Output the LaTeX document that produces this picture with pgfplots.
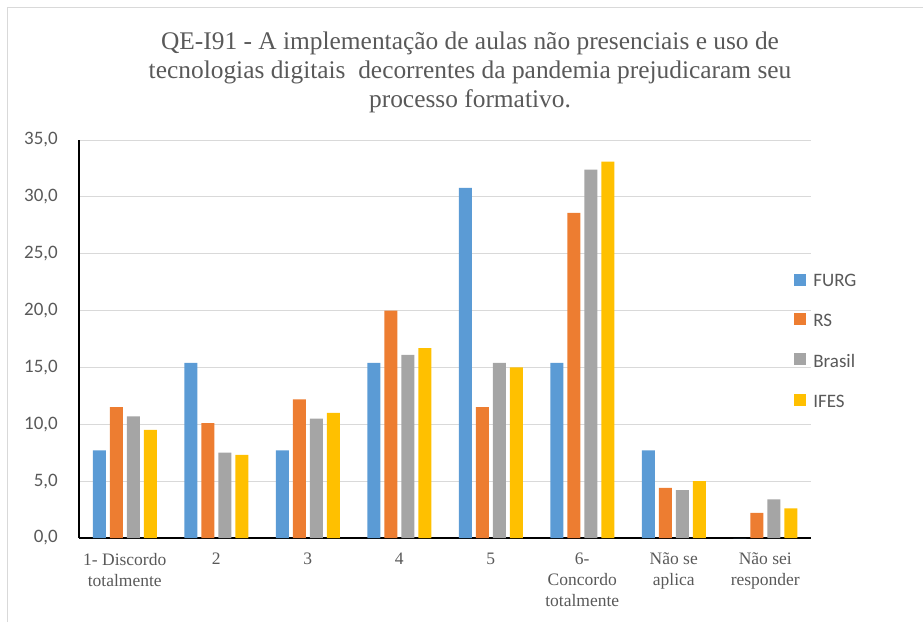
\documentclass[border=0pt]{standalone}
\usepackage{fontspec}
\setmainfont{Liberation Serif}
\newfontfamily\carlito{Carlito}
\usepackage{pgfplots}
\pgfplotsset{compat=1.18}
\definecolor{cFURG}{HTML}{5B9BD5}
\definecolor{cRS}{HTML}{ED7D31}
\definecolor{cBR}{HTML}{A5A5A5}
\definecolor{cIF}{HTML}{FFC000}
\definecolor{txt}{HTML}{595959}
\definecolor{grd}{HTML}{D9D9D9}
\begin{document}
\begin{tikzpicture}[x=1pt,y=1pt]
\useasboundingbox (0,0) rectangle (923,622);
\draw[grd, line width=1pt] (7,0) -- (7,614) -- (923,614);
\node[text=txt, align=center, font=\fontsize{25.4}{29}\selectfont] at (470,550)
 {QE-I91 - A implementação de aulas não presenciais e uso de\\
  tecnologias digitais\ \ decorrentes da pandemia prejudicaram seu\\
  processo formativo.};
\begin{axis}[
  at={(79pt,84pt)}, anchor=south west,
  scale only axis, width=732pt, height=398pt,
  xmin=-0.5, xmax=7.5, ymin=0, ymax=35,
  ybar=4pt, bar width=13pt,
  xtick={0,...,7},
  xticklabels={{1- Discordo\\totalmente},2,3,4,5,{6-\\Concordo\\totalmente},{Não se\\aplica},{Não sei\\responder}},
  xticklabel style={align=center, text=txt, font=\fontsize{17.5}{21}\selectfont, inner sep=0pt, yshift=-15pt},
  ytick={0,5,...,35},
  yticklabel style={text=txt, font=\carlito\fontsize{19}{22}\selectfont, inner sep=0pt},
  yticklabel shift=21pt,
  /pgf/number format/.cd, fixed, fixed zerofill, precision=1, use comma, assume math mode=true,
  /pgfplots/.cd,
  major tick length=0pt,
  ymajorgrids, grid style={grd, line width=1pt},
  axis x line=bottom, axis y line=left,
  axis line style={-, black, line width=1.2pt},
  legend style={draw=none, fill=none, at={(0.977,0.665)}, anchor=north west,
    font=\carlito\fontsize{19}{22}\selectfont, text=txt,
    inner sep=0pt, row sep=25pt, column sep=0pt,
    nodes={inner sep=0pt},
    /tikz/every odd column/.append style={column sep=7pt}},
  legend cell align=left,
  legend image code/.code={\fill[#1] (0pt,-4pt) rectangle (12pt,8pt);},
]
\addplot[fill=cFURG, draw=none] coordinates {(0,7.7) (1,15.4) (2,7.7) (3,15.4) (4,30.8) (5,15.4) (6,7.7) (7,0)};
\addplot[fill=cRS, draw=none] coordinates {(0,11.5) (1,10.1) (2,12.2) (3,20.0) (4,11.5) (5,28.6) (6,4.4) (7,2.2)};
\addplot[fill=cBR, draw=none] coordinates {(0,10.7) (1,7.5) (2,10.5) (3,16.1) (4,15.4) (5,32.4) (6,4.2) (7,3.4)};
\addplot[fill=cIF, draw=none] coordinates {(0,9.5) (1,7.3) (2,11.0) (3,16.7) (4,15.0) (5,33.1) (6,5.0) (7,2.6)};
\legend{FURG,RS,Brasil,IFES}
\end{axis}
\end{tikzpicture}
\end{document}
